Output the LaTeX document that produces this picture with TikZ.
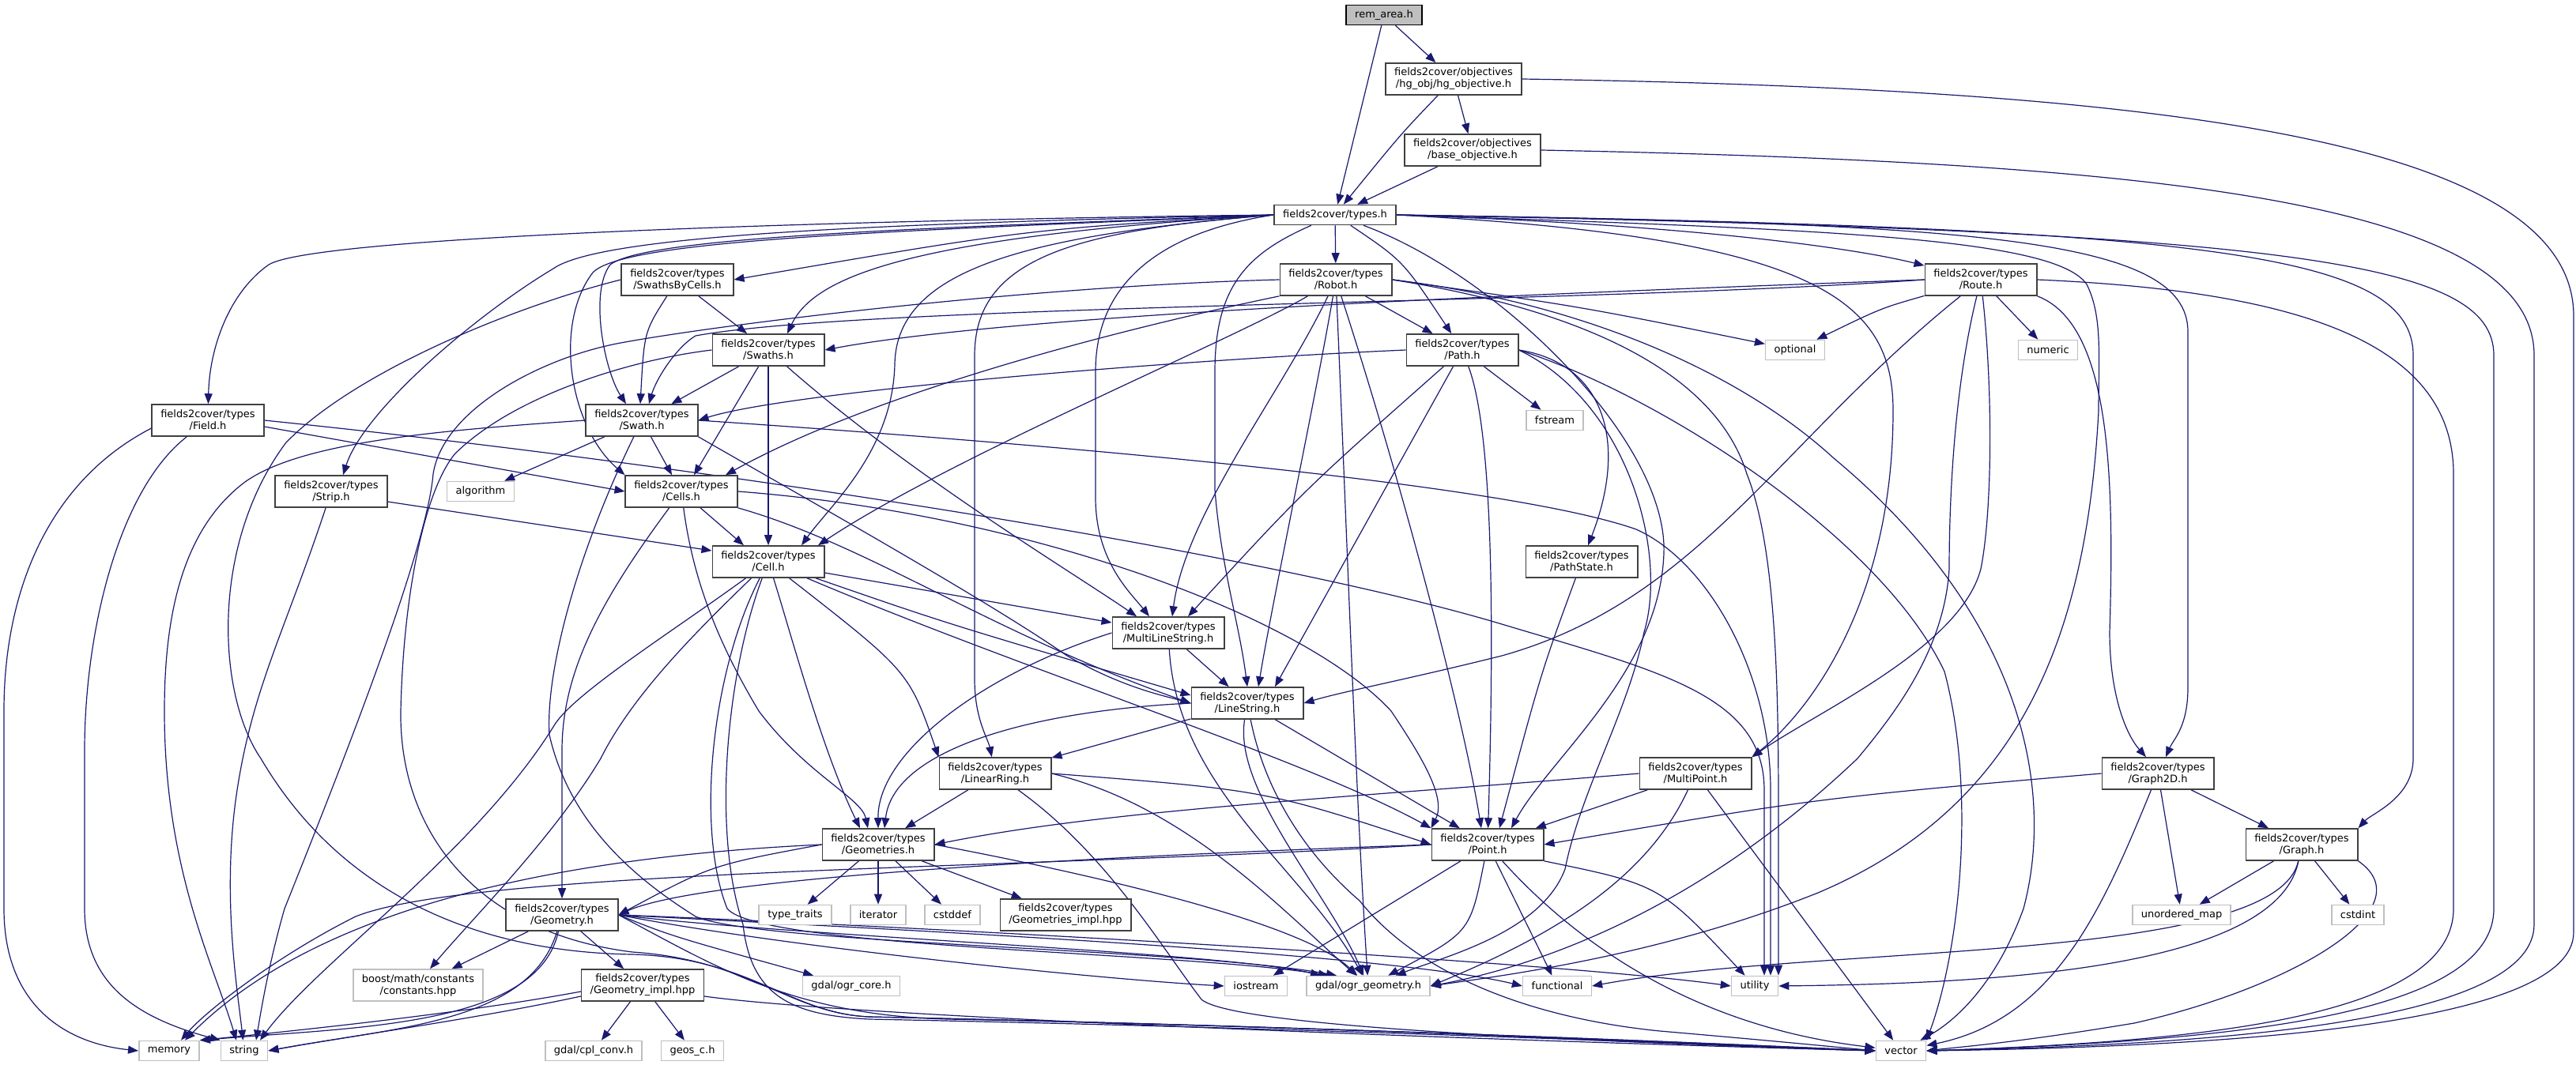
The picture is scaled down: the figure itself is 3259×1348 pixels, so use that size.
\documentclass[tikz,border=0pt]{standalone}
\usepackage{fontspec}
\setmainfont{DejaVu Sans}
\usetikzlibrary{arrows.meta}
\definecolor{edgec}{HTML}{191970}
\definecolor{extc}{HTML}{BFBFBF}
\definecolor{boxc}{HTML}{404040}
\definecolor{remfill}{HTML}{BFBFBF}
\pgfdeclarelayer{bg}
\pgfsetlayers{bg,main}
\newcommand\EE[2]{\draw[edg] (#1) -- (#2);}
\begin{document}
\begin{tikzpicture}[x=1pt,y=-1pt,
  box/.style={draw=boxc,line width=1.6pt,fill=white,align=center,
    inner xsep=11pt,inner ysep=0pt,minimum height=40pt,
    font=\fontsize{13}{15}\selectfont},
  box1/.style={box,minimum height=25pt},
  ext/.style={box1,draw=extc},
  ext2/.style={box,draw=extc},
  edg/.style={draw=edgec,line width=1.2pt,-{Triangle[length=13pt,width=10pt]}}]
\useasboundingbox (0,0) rectangle (3259,1348);
% ---------------- nodes ----------------
\node[box1,fill=remfill,draw=black] (rem) at (1751,19) {rem\_area.h};
\node[box] (hg) at (1839,100) {fields2cover/objectives\\/hg\_obj/hg\_objective.h};
\node[box] (base) at (1863,190) {fields2cover/objectives\\/base\_objective.h};
\node[box1] (types) at (1689,272) {fields2cover/types.h};
\node[box] (sbc) at (857,354) {fields2cover/types\\/SwathsByCells.h};
\node[box] (robot) at (1690,354) {fields2cover/types\\/Robot.h};
\node[box] (route) at (2506,354) {fields2cover/types\\/Route.h};
\node[box] (swaths) at (972,443) {fields2cover/types\\/Swaths.h};
\node[box] (pathh) at (1850,443) {fields2cover/types\\/Path.h};
\node[ext] (optional) at (2271,443) {optional};
\node[ext] (numeric) at (2591,443) {numeric};
\node[box] (field) at (263,532) {fields2cover/types\\/Field.h};
\node[box] (swath) at (812,532) {fields2cover/types\\/Swath.h};
\node[ext] (fstream) at (1967,532) {fstream};
\node[box] (strip) at (419,622) {fields2cover/types\\/Strip.h};
\node[ext] (algorithm) at (608,622) {algorithm};
\node[box] (cells) at (862,622) {fields2cover/types\\/Cells.h};
\node[box] (cell) at (972,711) {fields2cover/types\\/Cell.h};
\node[box] (pathstate) at (2001,711) {fields2cover/types\\/PathState.h};
\node[box] (mls) at (1478,801) {fields2cover/types\\/MultiLineString.h};
\node[box] (ls) at (1578,890) {fields2cover/types\\/LineString.h};
\node[box] (lr) at (1259,979) {fields2cover/types\\/LinearRing.h};
\node[box] (mp) at (2145,979) {fields2cover/types\\/MultiPoint.h};
\node[box] (g2d) at (2730,979) {fields2cover/types\\/Graph2D.h};
\node[box] (geoms) at (1111,1069) {fields2cover/types\\/Geometries.h};
\node[box] (point) at (1882,1069) {fields2cover/types\\/Point.h};
\node[box] (graph) at (2912,1069) {fields2cover/types\\/Graph.h};
\node[ext] (typetraits) at (1006,1158) {type\_traits};
\node[ext] (iterator) at (1111,1158) {iterator};
\node[ext] (cstddef) at (1205,1158) {cstddef};
\node[box] (geomsimpl) at (1348,1158) {fields2cover/types\\/Geometries\_impl.hpp};
\node[ext] (umap) at (2760,1158) {unordered\_map};
\node[ext] (cstdint) at (2983,1158) {cstdint};
\node[box] (geometry) at (711,1158) {fields2cover/types\\/Geometry.h};
\node[ext2] (boost) at (529,1247) {boost/math/constants\\/constants.hpp};
\node[box] (geomimpl) at (813,1247) {fields2cover/types\\/Geometry\_impl.hpp};
\node[ext] (ogrcore) at (1077,1248) {gdal/ogr\_core.h};
\node[ext] (iostream) at (1589,1248) {iostream};
\node[ext] (ogrgeom) at (1731,1248) {gdal/ogr\_geometry.h};
\node[ext] (functional) at (1970,1248) {functional};
\node[ext] (utility) at (2220,1248) {utility};
\node[ext] (memory) at (214,1330) {memory};
\node[ext] (string) at (309,1330) {string};
\node[ext] (cplconv) at (751,1330) {gdal/cpl\_conv.h};
\node[ext] (geos) at (876,1330) {geos\_c.h};
\node[ext] (vector) at (2405,1330) {vector};
% ---------------- edges ----------------
\begin{pgfonlayer}{bg}
\fill[white] (0,0) rectangle (3259,1348);
% top
\EE{rem}{types}
\EE{rem}{hg}
\draw[edg] (hg) .. controls (1772,170) .. (types);
\EE{hg}{base}
\draw[edg] (hg.east) .. controls (2700,112) and (3256,170) .. (3256,400) -- (3256,1180) .. controls (3256,1300) and (2800,1325) .. (vector.east);
\EE{base}{types}
\draw[edg] (base.east) .. controls (2700,205) and (3206,250) .. (3206,450) -- (3206,1170) .. controls (3206,1295) and (2800,1322) .. (vector.east);
% types
\EE{types}{robot}
\draw[edg] (types) .. controls (1775,330) .. (pathh);
\draw[edg] (types.east) .. controls (2150,285) and (2350,315) .. (route);
\draw[edg] (types.west) .. controls (1300,290) .. (sbc.east);
\draw[edg] (types.west) .. controls (1150,300) and (1030,350) .. ([xshift=24pt]swaths.north);
\draw[edg] (types.west) .. controls (1200,288) and (820,298) .. (772,335) .. controls (745,370) and (765,470) .. ([xshift=-20pt]swath.north);
\draw[edg] (types.west) .. controls (1100,278) and (400,298) .. (340,335) .. controls (290,370) and (265,440) .. (field);
\draw[edg] (types.west) .. controls (1100,283) and (760,298) .. (700,340) .. controls (600,400) and (460,520) .. ([xshift=15pt]strip.north);
\draw[edg] (types.west) .. controls (1150,292) and (790,302) .. (750,345) .. controls (700,410) and (720,540) .. (cells.north west);
\draw[edg] (types.west) .. controls (1300,298) and (1135,340) .. (1132,460) .. controls (1130,570) and (1050,640) .. ([xshift=42pt]cell.north);
\draw[edg] (types.west) .. controls (1480,292) and (1386,350) .. (1386,470) -- (1386,630) .. controls (1386,710) and (1430,750) .. ([xshift=-24pt]mls.north);
\draw[edg] (types) .. controls (1580,320) and (1537,360) .. (1537,470) -- (1537,620) .. controls (1545,720) and (1568,790) .. (ls.north);
\draw[edg] (types.west) .. controls (1350,292) and (1233,330) .. (1233,450) -- (1233,860) .. controls (1233,910) and (1250,935) .. (lr);
\draw[edg] (types) .. controls (1900,350) and (2110,560) .. (2105,700) .. controls (2100,850) and (1960,960) .. ([xshift=30pt]point.north);
\draw[edg] (types.east) .. controls (2300,300) and (2395,380) .. (2395,520) .. controls (2395,760) and (2290,900) .. (mp.north east);
\draw[edg] (types.east) .. controls (2500,283) and (2768,300) .. (2768,420) -- (2768,870) .. controls (2768,920) and (2750,935) .. ([xshift=10pt]g2d.north);
\draw[edg] (types.east) .. controls (2800,288) and (3053,320) .. (3053,450) -- (3053,960) .. controls (3053,1010) and (3000,1030) .. (graph.north east);
\draw[edg] (types.east) .. controls (2900,293) and (3155,330) .. (3155,450) -- (3155,1150) .. controls (3155,1290) and (2800,1318) .. (vector.east);
\draw[edg] (types.east) .. controls (2300,290) and (2600,300) .. (2640,360) .. controls (2660,400) and (2655,450) .. (2655,520) .. controls (2640,800) and (2560,1020) .. (2300,1130) .. controls (2100,1210) and (1900,1235) .. (ogrgeom.east);
% sbc
\EE{sbc}{swaths}
\draw[edg] (sbc) .. controls (815,420) .. ([xshift=-2pt]swath.north);
\draw[edg] (sbc.west) .. controls (650,388) and (450,470) .. (362,560) .. controls (265,690) and (275,880) .. (330,960) .. controls (430,1130) and (600,1205) .. (800,1208) .. controls (950,1212) and (1000,1283) .. (1100,1287) .. controls (1700,1300) and (2200,1322) .. (vector.west);
% robot
\EE{robot}{pathh}
\draw[edg] (robot.east) .. controls (2000,388) .. (optional);
\draw[edg] (robot.south west) .. controls (1400,420) and (1100,500) .. ([xshift=56pt]cells.north);
\draw[edg] (robot) .. controls (1560,430) and (1200,580) .. ([xshift=63pt]cell.north);
\draw[edg] (robot) .. controls (1620,500) and (1500,650) .. ([xshift=5pt]mls.north);
\draw[edg] (robot) .. controls (1665,500) and (1610,760) .. ([xshift=14pt]ls.north);
\draw[edg] (robot) .. controls (1705,700) and (1715,1000) .. (ogrgeom);
\draw[edg] (robot) .. controls (1770,600) and (1850,900) .. ([xshift=-8pt]point.north);
\draw[edg] (robot.east) .. controls (2000,383) and (2200,470) .. (2320,580) .. controls (2560,780) and (2600,1000) .. (2560,1150) .. controls (2520,1260) and (2460,1300) .. (vector);
\draw[edg] (robot.east) .. controls (2000,392) and (2170,470) .. (2210,600) .. controls (2250,700) and (2250,900) .. (2250,1050) -- ([xshift=30pt]utility.north);
\draw[edg] (robot.west) .. controls (1300,362) and (900,412) .. (780,435) .. controls (680,455) and (560,520) .. (548,600) .. controls (540,700) and (420,1000) .. (360,1150) .. controls (340,1220) and (330,1280) .. ([xshift=15pt]string.north);
% route
\draw[edg] (route) .. controls (2380,390) .. (optional);
\EE{route}{numeric}
\draw[edg] (route.west) .. controls (2000,370) and (1300,395) .. (swaths.east);
\draw[edg] (route.west) .. controls (2000,385) and (1100,385) .. (880,425) .. controls (855,440) and (830,480) .. ([xshift=9pt]swath.north);
\draw[edg] (route) .. controls (2250,560) and (2150,760) .. (1900,830) .. controls (1780,860) and (1700,875) .. (ls.east);
\draw[edg] (route) .. controls (2470,500) and (2466,650) .. (2466,720) .. controls (2460,820) and (2400,900) .. (2350,960) .. controls (2150,1150) and (1950,1222) .. (ogrgeom.east);
\draw[edg] (route) .. controls (2522,500) and (2520,650) .. (2506,720) .. controls (2480,820) and (2300,900) .. (mp.north east);
\draw[edg] (route.south east) .. controls (2670,410) and (2675,600) .. (2669,800) .. controls (2669,880) and (2690,930) .. ([xshift=-15pt]g2d.north);
\draw[edg] (route.east) .. controls (2900,368) and (3104,430) .. (3104,600) -- (3104,1150) .. controls (3104,1285) and (2800,1318) .. (vector.east);
% path
\draw[edg] (pathh.west) .. controls (1500,455) and (1000,495) .. (swath.east);
\draw[edg] (pathh) .. controls (1650,620) .. ([xshift=25pt]mls.north);
\draw[edg] (pathh) -- ([xshift=35pt]ls.north);
\draw[edg] (pathh) .. controls (1890,550) and (1890,800) .. (point);
\EE{pathh}{fstream}
\draw[edg] (pathh.east) .. controls (2030,460) and (2060,560) .. (pathstate);
\draw[edg] (pathh.east) .. controls (2060,510) and (2110,700) .. (2080,800) .. controls (2060,900) and (2000,1000) .. (1980,1100) .. controls (1950,1180) and (1830,1210) .. (ogrgeom);
\draw[edg] (pathh.east) .. controls (2100,500) and (2380,680) .. (2460,850) .. controls (2500,1000) and (2480,1200) .. (vector.north east);
% pathstate
\draw[edg] (pathstate) .. controls (1950,850) .. ([xshift=15pt]point.north);
% multipoint
\EE{mp}{point}
\draw[edg] (mp.west) .. controls (1700,1010) and (1400,1025) .. (geoms.east);
\draw[edg] (mp) .. controls (2080,1120) and (1950,1190) .. (ogrgeom.east);
\EE{mp}{vector}
% graph2d
\draw[edg] (g2d.west) .. controls (2300,1010) .. (point.east);
\EE{g2d}{graph}
\EE{g2d}{umap}
\draw[edg] (g2d) .. controls (2660,1150) and (2600,1290) .. (vector);
% graph
\EE{graph}{umap}
\EE{graph}{cstdint}
\draw[edg] (graph.south east) .. controls (3070,1150) and (2900,1250) .. (2700,1295) .. controls (2550,1320) and (2480,1325) .. (vector.east);
\draw[edg] (graph) .. controls (2880,1230) and (2500,1245) .. (utility.east);
\draw[edg] (graph) .. controls (2880,1220) and (2300,1195) .. (functional.east);
% point
\draw[edg] (point.west) .. controls (1500,1080) and (900,1105) .. (geometry.east);
\EE{point}{iostream}
\draw[edg] (point) .. controls (1860,1180) .. (ogrgeom);
\EE{point}{functional}
\draw[edg] (point.south east) .. controls (2100,1120) .. (utility);
\draw[edg] (point) .. controls (2000,1200) and (2150,1300) .. (vector);
\draw[edg] (point.west) .. controls (1300,1100) and (600,1100) .. (450,1160) .. controls (350,1210) and (260,1280) .. ([xshift=15pt]memory.north);
% geometry
\EE{geometry}{boost}
\EE{geometry}{geomimpl}
\draw[edg] (geometry) .. controls (670,1295) and (500,1300) .. (string.east);
\draw[edg] (geometry) .. controls (680,1300) and (450,1300) .. (memory.north east);
\draw[edg] (geometry.east) .. controls (850,1185) .. (ogrcore);
\draw[edg] (geometry.east) .. controls (1000,1185) and (1550,1205) .. ([xshift=-60pt]ogrgeom.north);
\draw[edg] (geometry.east) .. controls (1000,1200) and (1400,1240) .. (iostream.west);
\draw[edg] (geometry.east) .. controls (1100,1175) and (1750,1205) .. (functional.west);
\draw[edg] (geometry.east) .. controls (1100,1170) and (1950,1215) .. (utility.west);
\draw[edg] (geometry.east) .. controls (900,1220) and (1000,1285) .. (1200,1290) .. controls (1700,1300) and (2100,1320) .. (vector.west);
% geometry_impl
\EE{geomimpl}{cplconv}
\EE{geomimpl}{geos}
\draw[edg] ([yshift=-14pt]geomimpl.west) .. controls (600,1290) and (450,1310) .. (string.east);
\draw[edg] ([yshift=-8pt]geomimpl.west) .. controls (600,1280) and (420,1300) .. (memory.north east);
\draw[edg] ([yshift=-14pt]geomimpl.east) .. controls (1100,1290) and (2000,1320) .. (vector.west);
% geometries
\EE{geoms}{typetraits}
\EE{geoms}{iterator}
\EE{geoms}{cstddef}
\EE{geoms}{geomsimpl}
\draw[edg] (geoms.west) .. controls (900,1095) .. (geometry.east);
\draw[edg] (geoms.west) .. controls (700,1085) and (400,1150) .. ([xshift=20pt]memory.north);
\draw[edg] (geoms.east) .. controls (1400,1110) and (1650,1170) .. (ogrgeom);
% linear ring
\EE{lr}{geoms}
\draw[edg] (lr.east) .. controls (1600,1000) .. (point.west);
\draw[edg] (lr.east) .. controls (1500,1020) and (1620,1150) .. (ogrgeom);
\draw[edg] (lr) .. controls (1400,1080) and (1470,1200) .. (1520,1265) .. controls (1560,1300) and (2000,1318) .. (vector.west);
% line string
\draw[edg] (ls.west) .. controls (1300,900) and (1130,950) .. ([xshift=8pt]geoms.north);
\EE{ls}{lr}
\EE{ls}{point}
\draw[edg] (ls) .. controls (1560,1000) and (1680,1130) .. (ogrgeom);
\draw[edg] (ls) .. controls (1600,1000) and (1650,1080) .. (1720,1140) .. controls (1800,1240) and (1950,1290) .. (2100,1305) .. controls (2250,1318) and (2320,1325) .. (vector.west);
% multilinestring
\EE{mls}{ls}
\draw[edg] (mls.west) .. controls (1250,850) and (1110,950) .. (geoms.north);
\draw[edg] (mls) .. controls (1490,1000) and (1650,1100) .. (ogrgeom);
% cell
\draw[edg] ([yshift=-14pt]cell.east) -- ([yshift=13pt]mls.west);
\draw[edg] (cell) .. controls (1200,790) .. ([yshift=10pt]ls.west);
\draw[edg] (cell) .. controls (1150,850) .. (lr.north west);
\draw[edg] (cell) .. controls (1000,800) and (1040,950) .. ([xshift=-23pt]geoms.north);
\draw[edg] (cell) .. controls (1300,850) and (1650,960) .. (point.north west);
\draw[edg] (cell) .. controls (900,850) and (880,1050) .. (920,1150) .. controls (960,1200) and (1500,1205) .. ([xshift=-50pt]ogrgeom.north);
\draw[edg] (cell) .. controls (920,850) and (900,1050) .. (940,1170) .. controls (950,1260) and (1000,1285) .. (1100,1290) .. controls (1700,1302) and (2200,1324) .. (vector.west);
\draw[edg] (cell) .. controls (850,800) and (722,880) .. (700,920) .. controls (600,1080) and (400,1220) .. ([xshift=20pt]string.north);
\draw[edg] (cell) .. controls (880,800) and (800,880) .. (760,960) .. controls (700,1060) and (600,1160) .. ([xshift=15pt]boost.north);
% cells
\draw[edg] (cells) -- ([xshift=-31pt]cell.north);
\draw[edg] (cells) .. controls (760,760) and (711,850) .. (711,950) -- (geometry);
\draw[edg] (cells) .. controls (875,720) and (900,800) .. (960,900) .. controls (1020,980) and (1090,1010) .. ([xshift=-13pt]geoms.north);
\draw[edg] (cells.south east) .. controls (1100,690) and (1250,800) .. (ls.west);
\draw[edg] (cells.east) .. controls (1300,650) and (1650,780) .. (1760,900) .. controls (1800,960) and (1830,1010) .. (point.north west);
% swath
\EE{swath}{algorithm}
\draw[edg] (swath) -- ([xshift=-12pt]cells.north);
\draw[edg] (swath.south east) .. controls (1000,620) and (1250,760) .. (1350,830) .. controls (1420,870) and (1470,880) .. (ls.west);
\draw[edg] (swath.west) .. controls (550,545) and (380,560) .. (310,610) .. controls (230,670) and (208,780) .. (208,900) .. controls (208,1100) and (270,1220) .. ([xshift=-10pt]string.north);
\draw[edg] (swath.east) .. controls (1300,560) and (1900,610) .. (2070,670) .. controls (2160,710) and (2240,850) .. (2240,1000) -- ([xshift=20pt]utility.north);
\draw[edg] (swath) .. controls (730,700) and (690,850) .. (695,930) .. controls (720,1040) and (800,1110) .. (880,1160) .. controls (960,1195) and (1500,1200) .. ([xshift=-40pt]ogrgeom.north);
% swaths
\EE{swaths}{swath}
\draw[edg] (swaths) -- ([xshift=16pt]cells.north);
\EE{swaths}{cell}
\draw[edg] (swaths) .. controls (1150,600) and (1350,720) .. ([xshift=-40pt]mls.north);
\draw[edg] (swaths.west) .. controls (800,455) and (650,500) .. (575,575) .. controls (535,625) and (510,760) .. (507,900) .. controls (505,1050) and (600,1180) .. (800,1205) .. controls (950,1215) and (1000,1283) .. (1100,1287) .. controls (1700,1300) and (2200,1322) .. (vector.west);
% strip
\draw[edg] ([yshift=-13pt]strip.east) -- ([yshift=14pt]cell.west);
\draw[edg] (strip) .. controls (360,800) and (320,870) .. (300,1000) .. controls (280,1130) and (300,1250) .. (string);
% field
\draw[edg] ([yshift=-8pt]field.east) -- (cells.west);
\draw[edg] ([yshift=-10pt]field.west) .. controls (60,610) and (5,750) .. (5,900) -- (5,1150) .. controls (5,1270) and (80,1320) .. (memory.west);
\draw[edg] (field) .. controls (150,620) and (107,800) .. (107,950) -- (107,1150) .. controls (107,1250) and (180,1290) .. (string.north west);
\draw[edg] (field.east) .. controls (900,590) and (1600,700) .. (1900,790) .. controls (2100,850) and (2232,880) .. (2232,1000) -- ([xshift=12pt]utility.north);
\end{pgfonlayer}
\end{tikzpicture}
\end{document}
